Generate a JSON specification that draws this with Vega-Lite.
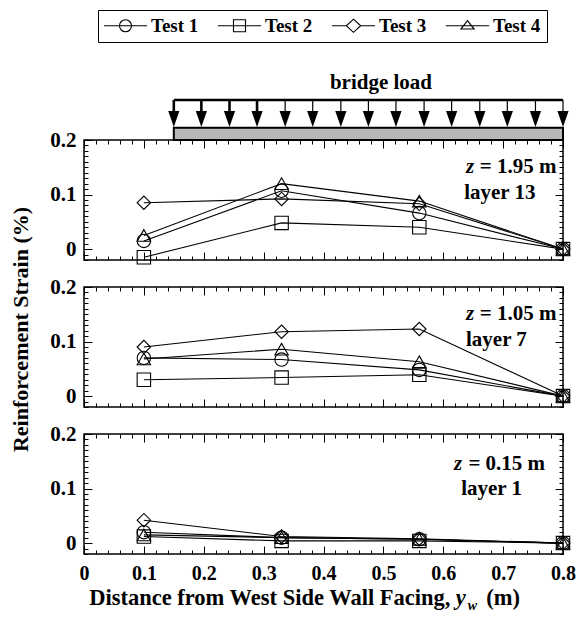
{
  "$schema": "https://vega.github.io/schema/vega-lite/v6.json",
  "background": "white",
  "padding": {"left": 8, "top": 8, "right": 2, "bottom": 5},
  "spacing": 27,
  "bounds": "flush",
  "config": {
    "font": "Liberation Serif",
    "view": {"stroke": "black", "strokeWidth": 1.5},
    "axis": {
      "domain": false, "grid": false,
      "labelFont": "Liberation Serif", "labelFontWeight": "bold", "labelFontSize": 21, "labelColor": "black",
      "labelOverlap": false, "labelFlush": false, "labelBound": false,
      "tickColor": "black", "tickWidth": 1,
      "titleFont": "Liberation Serif", "titleFontWeight": "bold", "titleFontSize": 22, "titleColor": "black"
    },
    "text": {"font": "Liberation Serif", "fontWeight": "bold", "color": "black"}
  },
  "datasets": {
    "strain": [
      {"layer": 13, "test": "Test 1", "y_w": 0.1, "strain": 0.015},
      {"layer": 13, "test": "Test 1", "y_w": 0.33, "strain": 0.107},
      {"layer": 13, "test": "Test 1", "y_w": 0.56, "strain": 0.066},
      {"layer": 13, "test": "Test 1", "y_w": 0.8, "strain": 0},
      {"layer": 13, "test": "Test 2", "y_w": 0.1, "strain": -0.015},
      {"layer": 13, "test": "Test 2", "y_w": 0.33, "strain": 0.048},
      {"layer": 13, "test": "Test 2", "y_w": 0.56, "strain": 0.04},
      {"layer": 13, "test": "Test 2", "y_w": 0.8, "strain": 0},
      {"layer": 13, "test": "Test 3", "y_w": 0.1, "strain": 0.085},
      {"layer": 13, "test": "Test 3", "y_w": 0.33, "strain": 0.092},
      {"layer": 13, "test": "Test 3", "y_w": 0.56, "strain": 0.083},
      {"layer": 13, "test": "Test 3", "y_w": 0.8, "strain": 0},
      {"layer": 13, "test": "Test 4", "y_w": 0.1, "strain": 0.025},
      {"layer": 13, "test": "Test 4", "y_w": 0.33, "strain": 0.12},
      {"layer": 13, "test": "Test 4", "y_w": 0.56, "strain": 0.088},
      {"layer": 13, "test": "Test 4", "y_w": 0.8, "strain": 0},
      {"layer": 7, "test": "Test 1", "y_w": 0.1, "strain": 0.07},
      {"layer": 7, "test": "Test 1", "y_w": 0.33, "strain": 0.067},
      {"layer": 7, "test": "Test 1", "y_w": 0.56, "strain": 0.048},
      {"layer": 7, "test": "Test 1", "y_w": 0.8, "strain": 0},
      {"layer": 7, "test": "Test 2", "y_w": 0.1, "strain": 0.03},
      {"layer": 7, "test": "Test 2", "y_w": 0.33, "strain": 0.034},
      {"layer": 7, "test": "Test 2", "y_w": 0.56, "strain": 0.039},
      {"layer": 7, "test": "Test 2", "y_w": 0.8, "strain": 0},
      {"layer": 7, "test": "Test 3", "y_w": 0.1, "strain": 0.09},
      {"layer": 7, "test": "Test 3", "y_w": 0.33, "strain": 0.118},
      {"layer": 7, "test": "Test 3", "y_w": 0.56, "strain": 0.123},
      {"layer": 7, "test": "Test 3", "y_w": 0.8, "strain": 0},
      {"layer": 7, "test": "Test 4", "y_w": 0.1, "strain": 0.068},
      {"layer": 7, "test": "Test 4", "y_w": 0.33, "strain": 0.086},
      {"layer": 7, "test": "Test 4", "y_w": 0.56, "strain": 0.063},
      {"layer": 7, "test": "Test 4", "y_w": 0.8, "strain": 0},
      {"layer": 1, "test": "Test 1", "y_w": 0.1, "strain": 0.02},
      {"layer": 1, "test": "Test 1", "y_w": 0.33, "strain": 0.01},
      {"layer": 1, "test": "Test 1", "y_w": 0.56, "strain": 0.007},
      {"layer": 1, "test": "Test 1", "y_w": 0.8, "strain": 0},
      {"layer": 1, "test": "Test 2", "y_w": 0.1, "strain": 0.012},
      {"layer": 1, "test": "Test 2", "y_w": 0.33, "strain": 0.004},
      {"layer": 1, "test": "Test 2", "y_w": 0.56, "strain": 0.004},
      {"layer": 1, "test": "Test 2", "y_w": 0.8, "strain": 0},
      {"layer": 1, "test": "Test 3", "y_w": 0.1, "strain": 0.042},
      {"layer": 1, "test": "Test 3", "y_w": 0.33, "strain": 0.012},
      {"layer": 1, "test": "Test 3", "y_w": 0.56, "strain": 0.008},
      {"layer": 1, "test": "Test 3", "y_w": 0.8, "strain": 0},
      {"layer": 1, "test": "Test 4", "y_w": 0.1, "strain": 0.015},
      {"layer": 1, "test": "Test 4", "y_w": 0.33, "strain": 0.01},
      {"layer": 1, "test": "Test 4", "y_w": 0.56, "strain": 0.007},
      {"layer": 1, "test": "Test 4", "y_w": 0.8, "strain": 0}
    ],
    "arrows": [
      {"pos": 0.15, "weight": "heavy"}, {"pos": 0.196, "weight": "heavy"}, {"pos": 0.243, "weight": "heavy"},
      {"pos": 0.289, "weight": "heavy"}, {"pos": 0.336, "weight": "light"}, {"pos": 0.382, "weight": "light"},
      {"pos": 0.429, "weight": "light"}, {"pos": 0.475, "weight": "light"}, {"pos": 0.521, "weight": "light"},
      {"pos": 0.568, "weight": "light"}, {"pos": 0.614, "weight": "light"}, {"pos": 0.661, "weight": "light"},
      {"pos": 0.707, "weight": "light"}, {"pos": 0.754, "weight": "light"}, {"pos": 0.8, "weight": "light"}
    ]
  },
  "resolve": {"scale": {"shape": "independent"}, "legend": {"shape": "independent"}},
  "vconcat": [
    {
      "width": 479, "height": 120,
      "resolve": {"axis": {"x": "independent", "y": "independent"}, "scale": {"shape": "independent"}, "legend": {"shape": "independent"}},
      "layer": [
        {
          "data": {"name": "strain"},
          "transform": [{"filter": "datum.layer == 13"}],
          "mark": {"type": "line", "color": "black", "strokeWidth": 1.1},
          "encoding": {
            "x": {"field": "y_w", "type": "quantitative", "scale": {"domain": [0, 0.8], "nice": false, "zero": false},
              "axis": {"orient": "bottom", "title": null, "labels": false,
                "values": [0,0.02,0.04,0.06,0.08,0.1,0.12,0.14,0.16,0.18,0.2,0.22,0.24,0.26,0.28,0.3,0.32,0.34,0.36,0.38,0.4,0.42,0.44,0.46,0.48,0.5,0.52,0.54,0.56,0.58,0.6,0.62,0.64,0.66,0.68,0.7,0.72,0.74,0.76,0.78,0.8],
                "tickSize": {"condition": {"test": "abs(datum.value*10-round(datum.value*10))<0.001", "value": -8}, "value": -4}}},
            "y": {"field": "strain", "type": "quantitative", "scale": {"domain": [-0.02, 0.2], "nice": false, "zero": false},
              "axis": {"orient": "left", "title": null, "format": "~g", "labelPadding": 16,
                "values": [-0.02,-0.01,0,0.01,0.02,0.03,0.04,0.05,0.06,0.07,0.08,0.09,0.1,0.11,0.12,0.13,0.14,0.15,0.16,0.17,0.18,0.19,0.2],
                "labelExpr": "abs(datum.value*10-round(datum.value*10))<0.001 ? datum.label : ''",
                "tickSize": {"condition": {"test": "abs(datum.value*10-round(datum.value*10))<0.001", "value": -8}, "value": -4}}},
            "detail": {"field": "test"}
          }
        },
        {
          "data": {"name": "strain"},
          "transform": [{"filter": "datum.layer == 13"}],
          "mark": {"type": "point", "filled": false, "color": "black", "size": 180, "strokeWidth": 1.1, "opacity": 1},
          "encoding": {
            "x": {"field": "y_w", "type": "quantitative", "scale": {"domain": [0, 0.8], "nice": false, "zero": false},
              "axis": {"orient": "top", "title": null, "labels": false,
                "values": [0,0.02,0.04,0.06,0.08,0.1,0.12,0.14,0.16,0.18,0.2,0.22,0.24,0.26,0.28,0.3,0.32,0.34,0.36,0.38,0.4,0.42,0.44,0.46,0.48,0.5,0.52,0.54,0.56,0.58,0.6,0.62,0.64,0.66,0.68,0.7,0.72,0.74,0.76,0.78,0.8],
                "tickSize": {"condition": {"test": "abs(datum.value*10-round(datum.value*10))<0.001", "value": -8}, "value": -4}}},
            "y": {"field": "strain", "type": "quantitative", "scale": {"domain": [-0.02, 0.2], "nice": false, "zero": false},
              "axis": {"orient": "right", "title": null, "labels": false,
                "values": [-0.02,-0.01,0,0.01,0.02,0.03,0.04,0.05,0.06,0.07,0.08,0.09,0.1,0.11,0.12,0.13,0.14,0.15,0.16,0.17,0.18,0.19,0.2],
                "tickSize": {"condition": {"test": "abs(datum.value*10-round(datum.value*10))<0.001", "value": -8}, "value": -4}}},
            "shape": {"field": "test", "type": "nominal",
              "scale": {"domain": ["Test 1", "Test 2", "Test 3", "Test 4"], "range": ["circle", "square", "diamond", "triangle-up"]},
              "legend": null}
          }
        },
        {
          "data": {"name": "strain"},
          "transform": [{"filter": "false"}],
          "mark": {"type": "point", "filled": false, "color": "black", "strokeWidth": 1.1, "opacity": 1},
          "encoding": {
            "x": {"field": "y_w", "type": "quantitative", "scale": {"domain": [0, 0.8], "nice": false, "zero": false}, "axis": null},
            "y": {"field": "strain", "type": "quantitative", "scale": {"domain": [-0.02, 0.2], "nice": false, "zero": false}, "axis": null},
            "shape": {"field": "test", "type": "nominal",
              "scale": {"domain": ["Test 1", "Test 2", "Test 3", "Test 4"],
                "range": [
                  "M-3.6,0H3.6M-1,0A1,1,0,1,1,1,0A1,1,0,1,1,-1,0Z",
                  "M-3.6,0H3.6M-1,-1H1V1H-1Z",
                  "M-3.6,0H-1.2M1.2,0H3.6M0,-1.1L1.2,0L0,1.1L-1.2,0Z",
                  "M-3.6,0H3.6M0,-0.85L1.1,0.55H-1.1Z"
                ]},
              "legend": {
                "orient": "none", "legendX": 14, "legendY": -130, "direction": "horizontal", "title": null,
                "strokeColor": "black", "padding": 6,
                "symbolSize": 144, "symbolStrokeWidth": 1.1, "symbolStrokeColor": "black", "symbolFillColor": "transparent",
                "symbolOffset": 12, "labelOffset": 16, "columnPadding": 16,
                "labelFont": "Liberation Serif", "labelFontWeight": "bold", "labelFontSize": 19, "labelColor": "black"
              }}
          }
        },
        {
          "data": {"values": [{}]},
          "mark": {"type": "rect", "fill": "#b8b8b8", "stroke": "black", "strokeWidth": 2},
          "encoding": {
            "x": {"datum": 0.15, "type": "quantitative", "scale": {"domain": [0, 0.8], "nice": false, "zero": false}, "axis": null},
            "x2": {"datum": 0.8},
            "y": {"datum": 0.2, "type": "quantitative", "scale": {"domain": [-0.02, 0.2], "nice": false, "zero": false}, "axis": null},
            "y2": {"datum": 0.2226}
          }
        },
        {
          "data": {"name": "arrows"},
          "mark": {"type": "rule", "color": "black"},
          "encoding": {
            "x": {"field": "pos", "type": "quantitative", "scale": {"domain": [0, 0.8], "nice": false, "zero": false}, "axis": null},
            "y": {"datum": 0.2734, "type": "quantitative", "scale": {"domain": [-0.02, 0.2], "nice": false, "zero": false}, "axis": null},
            "y2": {"datum": 0.2385},
            "strokeWidth": {"field": "weight", "type": "ordinal", "scale": {"domain": ["heavy", "light"], "range": [2.6, 1.2]}, "legend": null}
          }
        },
        {
          "data": {"name": "arrows"},
          "mark": {"type": "point", "shape": "M-0.7,-1L0.7,-1L0,1Z", "filled": true, "color": "black", "size": 256, "opacity": 1},
          "encoding": {
            "x": {"field": "pos", "type": "quantitative", "scale": {"domain": [0, 0.8], "nice": false, "zero": false}, "axis": null},
            "y": {"datum": 0.2385, "type": "quantitative", "scale": {"domain": [-0.02, 0.2], "nice": false, "zero": false}, "axis": null}
          }
        },
        {
          "data": {"values": [{}]},
          "mark": {"type": "rule", "color": "black", "strokeWidth": 2.6},
          "encoding": {
            "x": {"datum": 0.15, "type": "quantitative", "scale": {"domain": [0, 0.8], "nice": false, "zero": false}, "axis": null},
            "x2": {"datum": 0.8},
            "y": {"datum": 0.2734, "type": "quantitative", "scale": {"domain": [-0.02, 0.2], "nice": false, "zero": false}, "axis": null}
          }
        },
        {
          "data": {"values": [{}]},
          "mark": {"type": "text", "align": "center", "baseline": "alphabetic", "fontSize": 21, "text": "bridge load"},
          "encoding": {
            "x": {"datum": 0.496, "type": "quantitative", "scale": {"domain": [0, 0.8], "nice": false, "zero": false}, "axis": null},
            "y": {"datum": 0.294, "type": "quantitative", "scale": {"domain": [-0.02, 0.2], "nice": false, "zero": false}, "axis": null}
          }
        },
        {
          "data": {"values": [{}]},
          "mark": {"type": "text", "align": "left", "baseline": "alphabetic", "fontSize": 21, "fontStyle": "italic", "text": "z"},
          "encoding": {
            "x": {"datum": 0.638, "type": "quantitative", "scale": {"domain": [0, 0.8], "nice": false, "zero": false}, "axis": null},
            "y": {"datum": 0.1395, "type": "quantitative", "scale": {"domain": [-0.02, 0.2], "nice": false, "zero": false}, "axis": null}
          }
        },
        {
          "data": {"values": [{}]},
          "mark": {"type": "text", "align": "left", "baseline": "alphabetic", "fontSize": 21, "text": "= 1.95 m"},
          "encoding": {
            "x": {"datum": 0.661, "type": "quantitative", "scale": {"domain": [0, 0.8], "nice": false, "zero": false}, "axis": null},
            "y": {"datum": 0.1395, "type": "quantitative", "scale": {"domain": [-0.02, 0.2], "nice": false, "zero": false}, "axis": null}
          }
        },
        {
          "data": {"values": [{}]},
          "mark": {"type": "text", "align": "left", "baseline": "alphabetic", "fontSize": 21, "text": "layer 13"},
          "encoding": {
            "x": {"datum": 0.635, "type": "quantitative", "scale": {"domain": [0, 0.8], "nice": false, "zero": false}, "axis": null},
            "y": {"datum": 0.0925, "type": "quantitative", "scale": {"domain": [-0.02, 0.2], "nice": false, "zero": false}, "axis": null}
          }
        }
      ]
    },
    {
      "width": 479, "height": 120,
      "resolve": {"axis": {"x": "independent", "y": "independent"}},
      "layer": [
        {
          "data": {"name": "strain"},
          "transform": [{"filter": "datum.layer == 7"}],
          "mark": {"type": "line", "color": "black", "strokeWidth": 1.1},
          "encoding": {
            "x": {"field": "y_w", "type": "quantitative", "scale": {"domain": [0, 0.8], "nice": false, "zero": false},
              "axis": {"orient": "bottom", "title": null, "labels": false,
                "values": [0,0.02,0.04,0.06,0.08,0.1,0.12,0.14,0.16,0.18,0.2,0.22,0.24,0.26,0.28,0.3,0.32,0.34,0.36,0.38,0.4,0.42,0.44,0.46,0.48,0.5,0.52,0.54,0.56,0.58,0.6,0.62,0.64,0.66,0.68,0.7,0.72,0.74,0.76,0.78,0.8],
                "tickSize": {"condition": {"test": "abs(datum.value*10-round(datum.value*10))<0.001", "value": -8}, "value": -4}}},
            "y": {"field": "strain", "type": "quantitative", "scale": {"domain": [-0.02, 0.2], "nice": false, "zero": false},
              "axis": {"orient": "left", "title": "Reinforcement Strain (%)", "titleX": -64, "titleY": 42, "titleAngle": -90,
                "titleAlign": "center", "titleBaseline": "middle",
                "format": "~g", "labelPadding": 16,
                "values": [-0.02,-0.01,0,0.01,0.02,0.03,0.04,0.05,0.06,0.07,0.08,0.09,0.1,0.11,0.12,0.13,0.14,0.15,0.16,0.17,0.18,0.19,0.2],
                "labelExpr": "abs(datum.value*10-round(datum.value*10))<0.001 ? datum.label : ''",
                "tickSize": {"condition": {"test": "abs(datum.value*10-round(datum.value*10))<0.001", "value": -8}, "value": -4}}},
            "detail": {"field": "test"}
          }
        },
        {
          "data": {"name": "strain"},
          "transform": [{"filter": "datum.layer == 7"}],
          "mark": {"type": "point", "filled": false, "color": "black", "size": 180, "strokeWidth": 1.1, "opacity": 1},
          "encoding": {
            "x": {"field": "y_w", "type": "quantitative", "scale": {"domain": [0, 0.8], "nice": false, "zero": false},
              "axis": {"orient": "top", "title": null, "labels": false,
                "values": [0,0.02,0.04,0.06,0.08,0.1,0.12,0.14,0.16,0.18,0.2,0.22,0.24,0.26,0.28,0.3,0.32,0.34,0.36,0.38,0.4,0.42,0.44,0.46,0.48,0.5,0.52,0.54,0.56,0.58,0.6,0.62,0.64,0.66,0.68,0.7,0.72,0.74,0.76,0.78,0.8],
                "tickSize": {"condition": {"test": "abs(datum.value*10-round(datum.value*10))<0.001", "value": -8}, "value": -4}}},
            "y": {"field": "strain", "type": "quantitative", "scale": {"domain": [-0.02, 0.2], "nice": false, "zero": false},
              "axis": {"orient": "right", "title": null, "labels": false,
                "values": [-0.02,-0.01,0,0.01,0.02,0.03,0.04,0.05,0.06,0.07,0.08,0.09,0.1,0.11,0.12,0.13,0.14,0.15,0.16,0.17,0.18,0.19,0.2],
                "tickSize": {"condition": {"test": "abs(datum.value*10-round(datum.value*10))<0.001", "value": -8}, "value": -4}}},
            "shape": {"field": "test", "type": "nominal",
              "scale": {"domain": ["Test 1", "Test 2", "Test 3", "Test 4"], "range": ["circle", "square", "diamond", "triangle-up"]},
              "legend": null}
          }
        },
        {
          "data": {"values": [{}]},
          "mark": {"type": "text", "align": "left", "baseline": "alphabetic", "fontSize": 21, "fontStyle": "italic", "text": "z"},
          "encoding": {
            "x": {"datum": 0.638, "type": "quantitative", "scale": {"domain": [0, 0.8], "nice": false, "zero": false}, "axis": null},
            "y": {"datum": 0.1395, "type": "quantitative", "scale": {"domain": [-0.02, 0.2], "nice": false, "zero": false}, "axis": null}
          }
        },
        {
          "data": {"values": [{}]},
          "mark": {"type": "text", "align": "left", "baseline": "alphabetic", "fontSize": 21, "text": "= 1.05 m"},
          "encoding": {
            "x": {"datum": 0.661, "type": "quantitative", "scale": {"domain": [0, 0.8], "nice": false, "zero": false}, "axis": null},
            "y": {"datum": 0.1395, "type": "quantitative", "scale": {"domain": [-0.02, 0.2], "nice": false, "zero": false}, "axis": null}
          }
        },
        {
          "data": {"values": [{}]},
          "mark": {"type": "text", "align": "left", "baseline": "alphabetic", "fontSize": 21, "text": "layer 7"},
          "encoding": {
            "x": {"datum": 0.638, "type": "quantitative", "scale": {"domain": [0, 0.8], "nice": false, "zero": false}, "axis": null},
            "y": {"datum": 0.0925, "type": "quantitative", "scale": {"domain": [-0.02, 0.2], "nice": false, "zero": false}, "axis": null}
          }
        }
      ]
    },
    {
      "width": 479, "height": 120,
      "resolve": {"axis": {"x": "independent", "y": "independent"}},
      "layer": [
        {
          "data": {"name": "strain"},
          "transform": [{"filter": "datum.layer == 1"}],
          "mark": {"type": "line", "color": "black", "strokeWidth": 1.1},
          "encoding": {
            "x": {"field": "y_w", "type": "quantitative", "scale": {"domain": [0, 0.8], "nice": false, "zero": false},
              "axis": {"orient": "bottom", "title": null, "format": "~g", "labelPadding": 17, "labelFontSize": 20,
                "values": [0,0.02,0.04,0.06,0.08,0.1,0.12,0.14,0.16,0.18,0.2,0.22,0.24,0.26,0.28,0.3,0.32,0.34,0.36,0.38,0.4,0.42,0.44,0.46,0.48,0.5,0.52,0.54,0.56,0.58,0.6,0.62,0.64,0.66,0.68,0.7,0.72,0.74,0.76,0.78,0.8],
                "labelExpr": "abs(datum.value*10-round(datum.value*10))<0.001 ? datum.label : ''",
                "tickSize": {"condition": {"test": "abs(datum.value*10-round(datum.value*10))<0.001", "value": -8}, "value": -4}}},
            "y": {"field": "strain", "type": "quantitative", "scale": {"domain": [-0.02, 0.2], "nice": false, "zero": false},
              "axis": {"orient": "left", "title": null, "format": "~g", "labelPadding": 16,
                "values": [-0.02,-0.01,0,0.01,0.02,0.03,0.04,0.05,0.06,0.07,0.08,0.09,0.1,0.11,0.12,0.13,0.14,0.15,0.16,0.17,0.18,0.19,0.2],
                "labelExpr": "abs(datum.value*10-round(datum.value*10))<0.001 ? datum.label : ''",
                "tickSize": {"condition": {"test": "abs(datum.value*10-round(datum.value*10))<0.001", "value": -8}, "value": -4}}},
            "detail": {"field": "test"}
          }
        },
        {
          "data": {"name": "strain"},
          "transform": [{"filter": "datum.layer == 1"}],
          "mark": {"type": "point", "filled": false, "color": "black", "size": 180, "strokeWidth": 1.1, "opacity": 1},
          "encoding": {
            "x": {"field": "y_w", "type": "quantitative", "scale": {"domain": [0, 0.8], "nice": false, "zero": false},
              "axis": {"orient": "top", "title": null, "labels": false,
                "values": [0,0.02,0.04,0.06,0.08,0.1,0.12,0.14,0.16,0.18,0.2,0.22,0.24,0.26,0.28,0.3,0.32,0.34,0.36,0.38,0.4,0.42,0.44,0.46,0.48,0.5,0.52,0.54,0.56,0.58,0.6,0.62,0.64,0.66,0.68,0.7,0.72,0.74,0.76,0.78,0.8],
                "tickSize": {"condition": {"test": "abs(datum.value*10-round(datum.value*10))<0.001", "value": -8}, "value": -4}}},
            "y": {"field": "strain", "type": "quantitative", "scale": {"domain": [-0.02, 0.2], "nice": false, "zero": false},
              "axis": {"orient": "right", "title": null, "labels": false,
                "values": [-0.02,-0.01,0,0.01,0.02,0.03,0.04,0.05,0.06,0.07,0.08,0.09,0.1,0.11,0.12,0.13,0.14,0.15,0.16,0.17,0.18,0.19,0.2],
                "tickSize": {"condition": {"test": "abs(datum.value*10-round(datum.value*10))<0.001", "value": -8}, "value": -4}}},
            "shape": {"field": "test", "type": "nominal",
              "scale": {"domain": ["Test 1", "Test 2", "Test 3", "Test 4"], "range": ["circle", "square", "diamond", "triangle-up"]},
              "legend": null}
          }
        },
        {
          "data": {"values": [{}]},
          "mark": {"type": "text", "align": "left", "baseline": "alphabetic", "fontSize": 21, "fontStyle": "italic", "text": "z"},
          "encoding": {
            "x": {"datum": 0.618, "type": "quantitative", "scale": {"domain": [0, 0.8], "nice": false, "zero": false}, "axis": null},
            "y": {"datum": 0.134, "type": "quantitative", "scale": {"domain": [-0.02, 0.2], "nice": false, "zero": false}, "axis": null}
          }
        },
        {
          "data": {"values": [{}]},
          "mark": {"type": "text", "align": "left", "baseline": "alphabetic", "fontSize": 21, "text": "= 0.15 m"},
          "encoding": {
            "x": {"datum": 0.642, "type": "quantitative", "scale": {"domain": [0, 0.8], "nice": false, "zero": false}, "axis": null},
            "y": {"datum": 0.134, "type": "quantitative", "scale": {"domain": [-0.02, 0.2], "nice": false, "zero": false}, "axis": null}
          }
        },
        {
          "data": {"values": [{}]},
          "mark": {"type": "text", "align": "left", "baseline": "alphabetic", "fontSize": 21, "text": "layer 1"},
          "encoding": {
            "x": {"datum": 0.63, "type": "quantitative", "scale": {"domain": [0, 0.8], "nice": false, "zero": false}, "axis": null},
            "y": {"datum": 0.088, "type": "quantitative", "scale": {"domain": [-0.02, 0.2], "nice": false, "zero": false}, "axis": null}
          }
        },
        {
          "data": {"values": [{}]},
          "mark": {"type": "text", "align": "right", "baseline": "alphabetic", "fontSize": 22.5, "text": "Distance from West Side Wall Facing,"},
          "encoding": {
            "x": {"datum": 0.612, "type": "quantitative", "scale": {"domain": [0, 0.8], "nice": false, "zero": false}, "axis": null},
            "y": {"datum": -0.1135, "type": "quantitative", "scale": {"domain": [-0.02, 0.2], "nice": false, "zero": false}, "axis": null}
          }
        },
        {
          "data": {"values": [{}]},
          "mark": {"type": "text", "align": "left", "baseline": "alphabetic", "fontSize": 22.5, "fontStyle": "italic", "text": "y"},
          "encoding": {
            "x": {"datum": 0.621, "type": "quantitative", "scale": {"domain": [0, 0.8], "nice": false, "zero": false}, "axis": null},
            "y": {"datum": -0.1135, "type": "quantitative", "scale": {"domain": [-0.02, 0.2], "nice": false, "zero": false}, "axis": null}
          }
        },
        {
          "data": {"values": [{}]},
          "mark": {"type": "text", "align": "left", "baseline": "alphabetic", "fontSize": 14, "fontStyle": "italic", "text": "w"},
          "encoding": {
            "x": {"datum": 0.641, "type": "quantitative", "scale": {"domain": [0, 0.8], "nice": false, "zero": false}, "axis": null},
            "y": {"datum": -0.1225, "type": "quantitative", "scale": {"domain": [-0.02, 0.2], "nice": false, "zero": false}, "axis": null}
          }
        },
        {
          "data": {"values": [{}]},
          "mark": {"type": "text", "align": "left", "baseline": "alphabetic", "fontSize": 22.5, "text": "(m)"},
          "encoding": {
            "x": {"datum": 0.672, "type": "quantitative", "scale": {"domain": [0, 0.8], "nice": false, "zero": false}, "axis": null},
            "y": {"datum": -0.1135, "type": "quantitative", "scale": {"domain": [-0.02, 0.2], "nice": false, "zero": false}, "axis": null}
          }
        }
      ]
    }
  ]
}
